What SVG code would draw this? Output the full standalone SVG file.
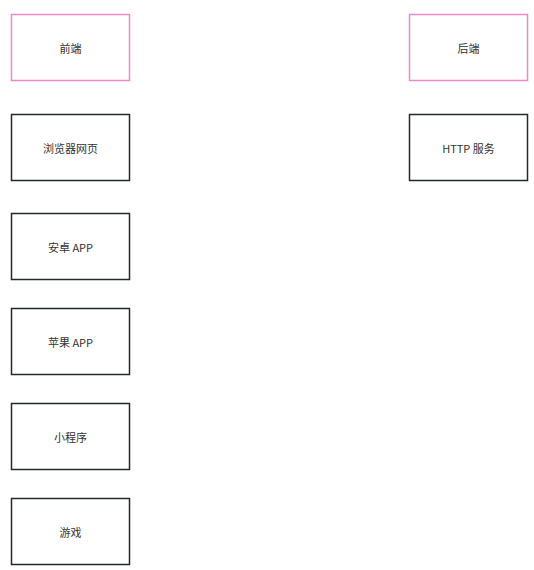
<svg xmlns="http://www.w3.org/2000/svg" width="534" height="570" viewBox="0 0 534 570">
<style>
.box{fill:#ffffff;stroke:#23282d;stroke-width:1.5}
.pink{fill:#ffffff;stroke:#ef8ac4;stroke-width:1.5}
.lbl{font-family:"Noto Sans CJK SC","Liberation Sans",sans-serif;font-size:11px;fill:#333333;text-anchor:middle;dominant-baseline:central}
</style>
<rect width="534" height="570" fill="#ffffff"/>
<g id="connectors"></g>
<g id="frontend"><rect class="pink" x="11.5" y="14.5" width="118" height="66"/><text class="lbl" x="70.5" y="47.5">前端</text></g>
<g id="backend"><rect class="pink" x="409.5" y="14.5" width="118" height="66"/><text class="lbl" x="468.5" y="47.5">后端</text></g>
<g id="browser"><rect class="box" x="11.5" y="114.5" width="118" height="66"/><text class="lbl" x="70.5" y="147.5">浏览器网页</text></g>
<g id="http"><rect class="box" x="409.5" y="114.5" width="118" height="66"/><text class="lbl" x="468.5" y="147.5">HTTP 服务</text></g>
<g id="android"><rect class="box" x="11.5" y="213.5" width="118" height="66"/><text class="lbl" x="70.5" y="246.5">安卓 APP</text></g>
<g id="ios"><rect class="box" x="11.5" y="308.5" width="118" height="66"/><text class="lbl" x="70.5" y="341.5">苹果 APP</text></g>
<g id="miniprogram"><rect class="box" x="11.5" y="403.5" width="118" height="66"/><text class="lbl" x="70.5" y="436.5">小程序</text></g>
<g id="game"><rect class="box" x="11.5" y="498.5" width="118" height="66"/><text class="lbl" x="70.5" y="531.5">游戏</text></g>
</svg>
